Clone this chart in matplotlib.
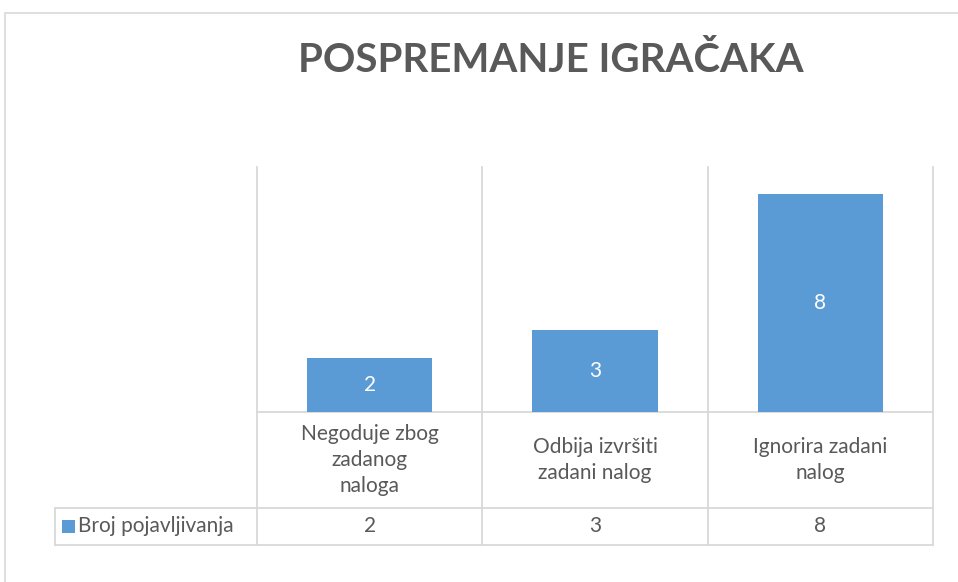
import matplotlib
matplotlib.use("Agg")
import matplotlib.pyplot as plt
from matplotlib.patches import Rectangle
from matplotlib.lines import Line2D
import matplotlib.transforms as mtransforms

plt.rcParams['font.family'] = ['Lato', 'DejaVu Sans']

# data
categories = ['Negoduje zbog\nzadanog\nnaloga', 'Odbija izvršiti\nzadani nalog', 'Ignorira zadani\nnalog']
values = [2, 3, 8]
series_name = 'Broj pojavljivanja'
title = 'POSPREMANJE IGRAČAKA'

bar_color = '#5B9BD5'
grid_color = '#D9D9D9'
text_color = '#595959'

W, H = 958, 582
fig = plt.figure(figsize=(W / 100, H / 100), dpi=100)

# outer chart frame (runs past the right and bottom edges)
fig.patches.append(Rectangle((5 / W, -0.1), 1.2, (H - 13) / H + 0.1, transform=fig.transFigure,
                             facecolor='none', edgecolor=grid_color, linewidth=1.2))

# plot area in pixels
left, right, top, base = 257, 933, 167, 412
ax = fig.add_axes([left / W, (H - base) / H, (right - left) / W, (base - top) / H])
x = list(range(len(values)))
bars = ax.bar(x, values, width=0.555, color=bar_color, zorder=2)
ax.set_xlim(-0.5, len(values) - 0.5)
ax.set_ylim(0, 9)
for s in ax.spines.values():
    s.set_visible(False)
ax.set_xticks([])
ax.set_yticks([])

for b, v in zip(bars, values):
    ax.text(b.get_x() + b.get_width() / 2, v / 2, str(v), ha='center', va='center',
            color='white', fontsize=15)

# table geometry in axes coords
ph = base - top
pw = right - left
row1 = -(508 - base) / ph
row2 = -(545 - base) / ph
leg_left = (55 - left) / pw
trans = mtransforms.blended_transform_factory(ax.transData, ax.transAxes)

def hline(y, x0, x1):
    ax.add_line(Line2D([x0, x1], [y, y], transform=ax.transAxes, color=grid_color,
                       linewidth=1.3, clip_on=False, zorder=1))

# vertical category separators
for xb in [i - 0.5 for i in range(len(values) + 1)]:
    ax.add_line(Line2D([xb, xb], [row2, 1], transform=trans, color=grid_color,
                       linewidth=1.3, clip_on=False, zorder=1))
ax.add_line(Line2D([leg_left, leg_left], [row2, row1], transform=ax.transAxes, color=grid_color,
                   linewidth=1.3, clip_on=False, zorder=1))
hline(0, 0, 1)
hline(row1, leg_left, 1)
hline(row2, leg_left, 1)

# category labels and values
for i, (c, v) in enumerate(zip(categories, values)):
    ax.text(i, row1 / 2, c, transform=trans, ha='center', va='center', fontsize=15,
            color=text_color, linespacing=1.35)
    ax.text(i, (row1 + row2) / 2, str(v), transform=trans, ha='center', va='center',
            fontsize=15, color=text_color)

# legend key in table
ymid = (row1 + row2) / 2
key_h = 13 / ph
key_w = 13 / pw
ax.add_patch(Rectangle(((62 - left) / pw, ymid - key_h / 2), key_w, key_h, transform=ax.transAxes,
                       facecolor=bar_color, edgecolor='none', clip_on=False))
ax.text((78 - left) / pw, ymid, series_name, transform=ax.transAxes, ha='left', va='center',
        fontsize=15, color=text_color)

fig.text(551 / W, 1 - 60 / H, title, ha='center', va='center', fontsize=29,
         fontweight='bold', color=text_color)

fig.savefig('out.png', dpi=100, facecolor='white')
